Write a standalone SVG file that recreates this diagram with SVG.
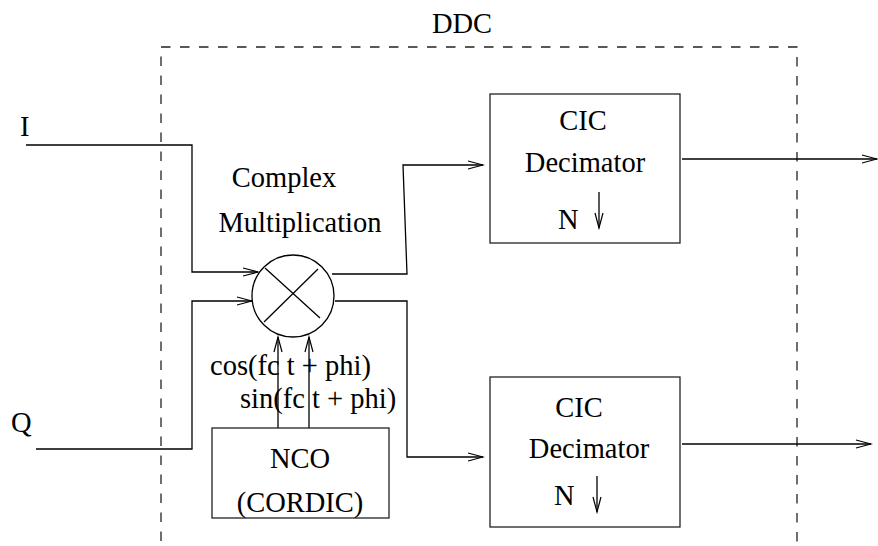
<svg xmlns="http://www.w3.org/2000/svg" width="878" height="546" viewBox="0 0 878 546">
<style>
text{font-family:'Liberation Serif','Times New Roman',Times,serif;font-size:28.5px;fill:#000}
.ln{fill:none;stroke:#000;stroke-width:1.3}
.bx{fill:#fff;stroke:#222;stroke-width:1.3}
.ah{fill:none;stroke:#000;stroke-width:1.2}
.dash{fill:none;stroke:#222;stroke-width:1.3;stroke-dasharray:9.5 9.5}
</style>
<defs>
<marker id="arr" markerWidth="18" markerHeight="12" refX="16" refY="5" orient="auto" markerUnits="userSpaceOnUse">
<path d="M1,1 L16,5 L1,9" class="ah"/>
</marker>
</defs>
<rect width="878" height="546" fill="#fff"/>
<g id="ddc">
<path class="dash" d="M161,560 L161,47 L797,47 L797,560"/>
<text x="462" y="33" text-anchor="middle">DDC</text>
</g>
<g id="labels">
<text x="20" y="136">I</text>
<text x="11" y="432">Q</text>
<text x="284" y="187" text-anchor="middle">Complex</text>
<text x="300" y="232" text-anchor="middle">Multiplication</text>
<text x="210" y="375">cos(fc t + phi)</text>
<text x="240" y="408">sin(fc t + phi)</text>
</g>
<g id="connectors">
<path class="ln" d="M26,145 L192,145 L192,272 L258,272" marker-end="url(#arr)"/>
<path class="ln" d="M36,449 L192,449 L192,301 L252,301" marker-end="url(#arr)"/>
<path class="ln" d="M332,274 L407,274 L403,165 L483,165" marker-end="url(#arr)"/>
<path class="ln" d="M335,301 L407,301 L407,457 L483,457" marker-end="url(#arr)"/>
<path class="ln" d="M278,428 L278,337" marker-end="url(#arr)"/>
<path class="ln" d="M309,428 L309,337" marker-end="url(#arr)"/>
<path class="ln" d="M682,159 L877,159" marker-end="url(#arr)"/>
<path class="ln" d="M682,444 L871,444" marker-end="url(#arr)"/>
</g>
<g id="mixer">
<circle cx="293" cy="296" r="41" fill="#fff" stroke="#000" stroke-width="1.3"/>
<path class="ln" d="M265,268 L320,318 M318,269 L264,322"/>
</g>
<g id="cic1">
<rect class="bx" x="490" y="94" width="190" height="149"/>
<text x="583" y="130" text-anchor="middle">CIC</text>
<text x="585" y="172" text-anchor="middle">Decimator</text>
<text x="558" y="229">N</text>
<path class="ln" d="M599,192 L599,228" marker-end="url(#arr)"/>
</g>
<g id="cic2">
<rect class="bx" x="490" y="377" width="190" height="150"/>
<text x="579" y="417" text-anchor="middle">CIC</text>
<text x="589" y="458" text-anchor="middle">Decimator</text>
<text x="554" y="505">N</text>
<path class="ln" d="M597,476 L597,512" marker-end="url(#arr)"/>
</g>
<g id="nco">
<rect class="bx" x="212" y="428" width="177" height="90"/>
<text x="300" y="468" text-anchor="middle">NCO</text>
<text x="300" y="512" text-anchor="middle">(CORDIC)</text>
</g>
</svg>
